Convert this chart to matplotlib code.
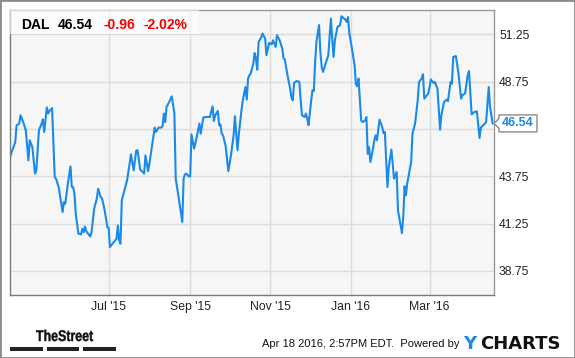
import pandas as pd
import matplotlib
matplotlib.use("Agg")
import matplotlib.pyplot as plt
from matplotlib.patches import Rectangle, Polygon, PathPatch
from matplotlib.transforms import IdentityTransform, Affine2D
from matplotlib.textpath import TextPath
from matplotlib.font_manager import FontProperties

plt.rcParams["font.family"] = ["Liberation Sans", "DejaVu Sans"]

# ── data ──────────────────────────────────────────────────────────────────────
START = pd.Timestamp("2015-04-17")
days = [0, 4, 5, 7, 8, 10, 12, 14, 15, 17, 19, 20, 22, 24, 25, 26, 28, 29, 30, 32,
        34, 35, 37, 40, 41, 42, 44, 46, 47, 48, 49, 50, 52, 54, 55, 56, 57, 58, 61, 62,
        64, 66, 67, 69, 70, 72, 74, 75, 76, 78, 81, 82, 83, 84, 85, 87, 89, 92, 93, 94,
        96, 97, 99, 101, 102, 103, 104, 105, 106, 108, 110, 111, 113, 115, 116, 117, 118, 119, 121, 123,
        125, 126, 128, 131, 132, 133, 134, 136, 137, 138, 140, 142, 144, 145, 147, 149, 152, 154, 155, 156,
        158, 159, 160, 161, 162, 164, 166, 168, 170, 171, 173, 174, 176, 177, 179, 180, 181, 182, 183, 185,
        186, 187, 188, 189, 191, 192, 194, 195, 197, 198, 199, 200, 202, 203, 205, 207, 208, 209, 211, 213,
        214, 215, 216, 218, 220, 221, 222, 224, 225, 226, 227, 229, 230, 231, 232, 233, 235, 236, 237, 238,
        240, 242, 244, 245, 246, 247, 249, 251, 252, 254, 255, 256, 257, 258, 260, 262, 263, 264, 265, 267,
        268, 270, 271, 272, 273, 274, 276, 277, 278, 279, 281, 283, 284, 285, 287, 288, 290, 292, 294, 295,
        298, 299, 300, 301, 302, 305, 306, 308, 310, 311, 313, 314, 315, 318, 319, 320, 322, 323, 325, 327,
        328, 330, 332, 333, 335, 336, 337, 339, 341, 343, 344, 346, 348, 349, 351, 353, 355, 357, 358, 361,
        362, 364, 365, 367]
price = [44.77, 45.56, 46.44, 46.53, 46.97, 46.62, 46.18, 44.59, 45.65, 45.29, 43.89, 44.06, 46.18, 46.53, 46.76, 46.09, 47.38, 47.06, 47.20, 47.35,
         43.71, 43.62, 43.18, 41.86, 42.39, 42.30, 43.36, 44.27, 43.18, 43.18, 42.83, 41.77, 40.72, 40.68, 40.98, 40.80, 41.10, 40.85, 40.57, 40.80,
         42.04, 42.57, 43.09, 42.65, 42.57, 41.95, 41.06, 41.03, 40.01, 40.19, 40.45, 41.15, 40.36, 40.19, 42.48, 43.00, 43.53, 44.91, 44.50, 44.06,
         45.12, 45.12, 44.10, 43.97, 43.89, 44.85, 44.42, 44.02, 44.42, 45.38, 46.32, 46.09, 46.32, 46.32, 46.39, 47.06, 46.61, 47.41, 47.67, 47.97,
         47.06, 43.62, 42.74, 41.33, 43.62, 43.85, 43.89, 43.74, 43.74, 45.96, 45.21, 45.82, 46.53, 46.00, 46.85, 46.88, 46.88, 47.44, 46.67, 46.97,
         47.20, 46.44, 46.49, 46.00, 45.91, 45.33, 44.02, 44.85, 45.91, 46.92, 45.12, 45.99, 47.23, 47.76, 48.46, 47.80, 48.91, 49.08, 49.17, 49.70,
         50.26, 49.97, 49.38, 50.84, 51.08, 51.29, 51.02, 50.14, 50.79, 50.76, 50.72, 50.93, 50.58, 51.20, 50.93, 50.49, 49.97, 49.91, 49.08, 48.38,
         47.90, 47.76, 48.68, 48.78, 48.73, 47.76, 46.97, 46.88, 47.06, 46.79, 46.45, 47.76, 48.29, 48.25, 49.79, 50.84, 51.73, 50.31, 49.52, 49.26,
         49.70, 50.14, 52.08, 51.02, 50.05, 50.93, 51.64, 51.73, 52.20, 52.08, 52.03, 51.90, 52.16, 51.29, 50.49, 49.61, 48.61, 48.50, 48.91, 46.70,
         46.61, 46.70, 46.88, 44.94, 45.29, 44.50, 45.21, 45.65, 45.91, 45.65, 46.74, 46.35, 46.03, 46.09, 43.18, 44.24, 45.16, 43.62, 43.97, 41.95,
         40.75, 41.59, 43.22, 42.74, 43.36, 44.50, 46.00, 46.53, 47.76, 48.73, 48.91, 49.14, 47.85, 48.12, 48.46, 48.86, 48.68, 48.73, 48.38, 46.21,
         46.97, 47.67, 47.80, 47.72, 48.73, 48.64, 50.05, 50.10, 49.17, 47.85, 48.03, 48.12, 49.08, 49.31, 47.02, 47.14, 47.18, 45.77, 46.32, 46.53,
         46.61, 48.46, 47.41, 46.54]

TICKER = "DAL"
CHANGE = -0.96
CHANGE_PCT = -2.02
month_ticks = ["2015-07-01", "2015-09-01", "2015-11-01", "2016-01-01", "2016-03-01"]
month_labels = ["Jul '15", "Sep '15", "Nov '15", "Jan '16", "Mar '16"]
price_ticks = [38.75, 41.25, 43.75, 46.25, 48.75, 51.25]
STAMP = "Apr 18 2016, 2:57PM EDT.  Powered by"

# ── style ─────────────────────────────────────────────────────────────────────
W, H = 575, 358
BLUE = "#1a8ae8"
RED = "#f20000"
GRID = "#dcdcdc"


def fx(x):
    return x / W


def fy(y):
    return 1 - y / H


def main():
    fig = plt.figure(figsize=(W / 100, H / 100), dpi=100)
    fig.patch.set_facecolor("white")

    ax = fig.add_axes([fx(10), fy(295), 484 / W, 285 / H])
    ax.set_facecolor("#f6f6f6")
    dates = START + pd.to_timedelta(days, unit="D")
    ax.plot(dates, price, color=BLUE, lw=1.5, zorder=2)
    ax.set_xlim(START, START + pd.Timedelta(days=368))
    ax.set_ylim(37.48, 52.53)

    ax.set_xticks(pd.to_datetime(month_ticks))
    ax.set_xticklabels(month_labels)
    ax.set_yticks(price_ticks)
    # the 46.25 label sits under the last-price tag, as in the original
    ax.set_yticklabels(["" if abs(v - price[-1]) < 0.6 else f"{v:.2f}" for v in price_ticks])
    ax.yaxis.tick_right()
    ax.tick_params(axis="both", length=0, labelsize=8.8, colors="#222222")
    ax.tick_params(axis="x", pad=4.5)
    ax.tick_params(axis="y", pad=3.6)
    ax.grid(color=GRID, lw=1)
    ax.set_axisbelow(True)
    for side in ["top", "right"]:
        ax.spines[side].set_color("#9a9a9a")
    for side in ["left", "bottom"]:
        ax.spines[side].set_color("#7a7a7a")
    for s in ax.spines.values():
        s.set_linewidth(1)

    # header box with quote
    ax.add_patch(Rectangle((0, 1 - 24 / 285), 189 / 484, 24 / 285, transform=ax.transAxes,
                           fc="white", alpha=0.6, ec="none", zorder=3))
    fig.text(fx(21), fy(29), TICKER, fontsize=10, weight="bold", va="baseline")
    fig.text(fx(58), fy(29), f"{price[-1]:.2f}", fontsize=10, weight="bold", va="baseline")
    fig.text(fx(103), fy(29), f"{CHANGE:.2f}", fontsize=10, weight="bold", color=RED, va="baseline")
    fig.text(fx(144), fy(29), f"{CHANGE_PCT:.2f}%", fontsize=10, weight="bold", color=RED, va="baseline")

    # last-price tag on the right axis
    x0 = ax.transAxes.transform((1, 0))[0]
    yc = ax.transData.transform((0, price[-1]))[1]
    tag = [(x0, yc), (x0 + 5, yc + 5), (x0 + 5, yc + 8.5), (x0 + 43, yc + 8.5),
           (x0 + 43, yc - 8.5), (x0 + 5, yc - 8.5), (x0 + 5, yc - 5)]
    fig.add_artist(Polygon(tag, closed=True, transform=IdentityTransform(),
                           fc="white", ec="#8a8a8a", lw=1))
    fig.text((x0 + 24) / W, yc / H, f"{price[-1]:.2f}", fontsize=9, weight="bold",
             color=BLUE, ha="center", va="center")

    # footer: condensed "TheStreet" wordmark
    tp = TextPath((0, 0), "TheStreet", size=15.5,
                  prop=FontProperties(family="Liberation Sans", weight="bold"))
    tr = Affine2D().scale(0.8, 1).translate(36, H - 341)
    fig.add_artist(PathPatch(tr.transform_path(tp), transform=IdentityTransform(),
                             fc="#111111", ec="#111111", lw=0.3))
    for a, b in [(10, 42.7), (46.7, 79.3), (83.3, 115.7)]:
        fig.add_artist(Rectangle((fx(a), fy(350.7)), (b - a) / W, 3.4 / H,
                                 transform=fig.transFigure, fc="#222222", ec="none"))
    fig.text(fx(460), fy(347), STAMP, fontsize=8, ha="right", va="baseline", color="#111111")
    fig.text(fx(463), fy(349), "Y", fontsize=13, weight="bold", color=BLUE,
             family="DejaVu Sans", va="baseline")
    fig.text(fx(480), fy(349), "CHARTS", fontsize=13, weight="bold", color="#111111",
             family="DejaVu Sans", va="baseline")

    # outer frame
    fig.add_artist(Rectangle((0, 0), 1, 1, transform=fig.transFigure, fill=False,
                             ec="#8c8c8c", lw=2))

    fig.savefig("out.png", dpi=100, facecolor="white")
    plt.close(fig)


if __name__ == "__main__":
    main()
